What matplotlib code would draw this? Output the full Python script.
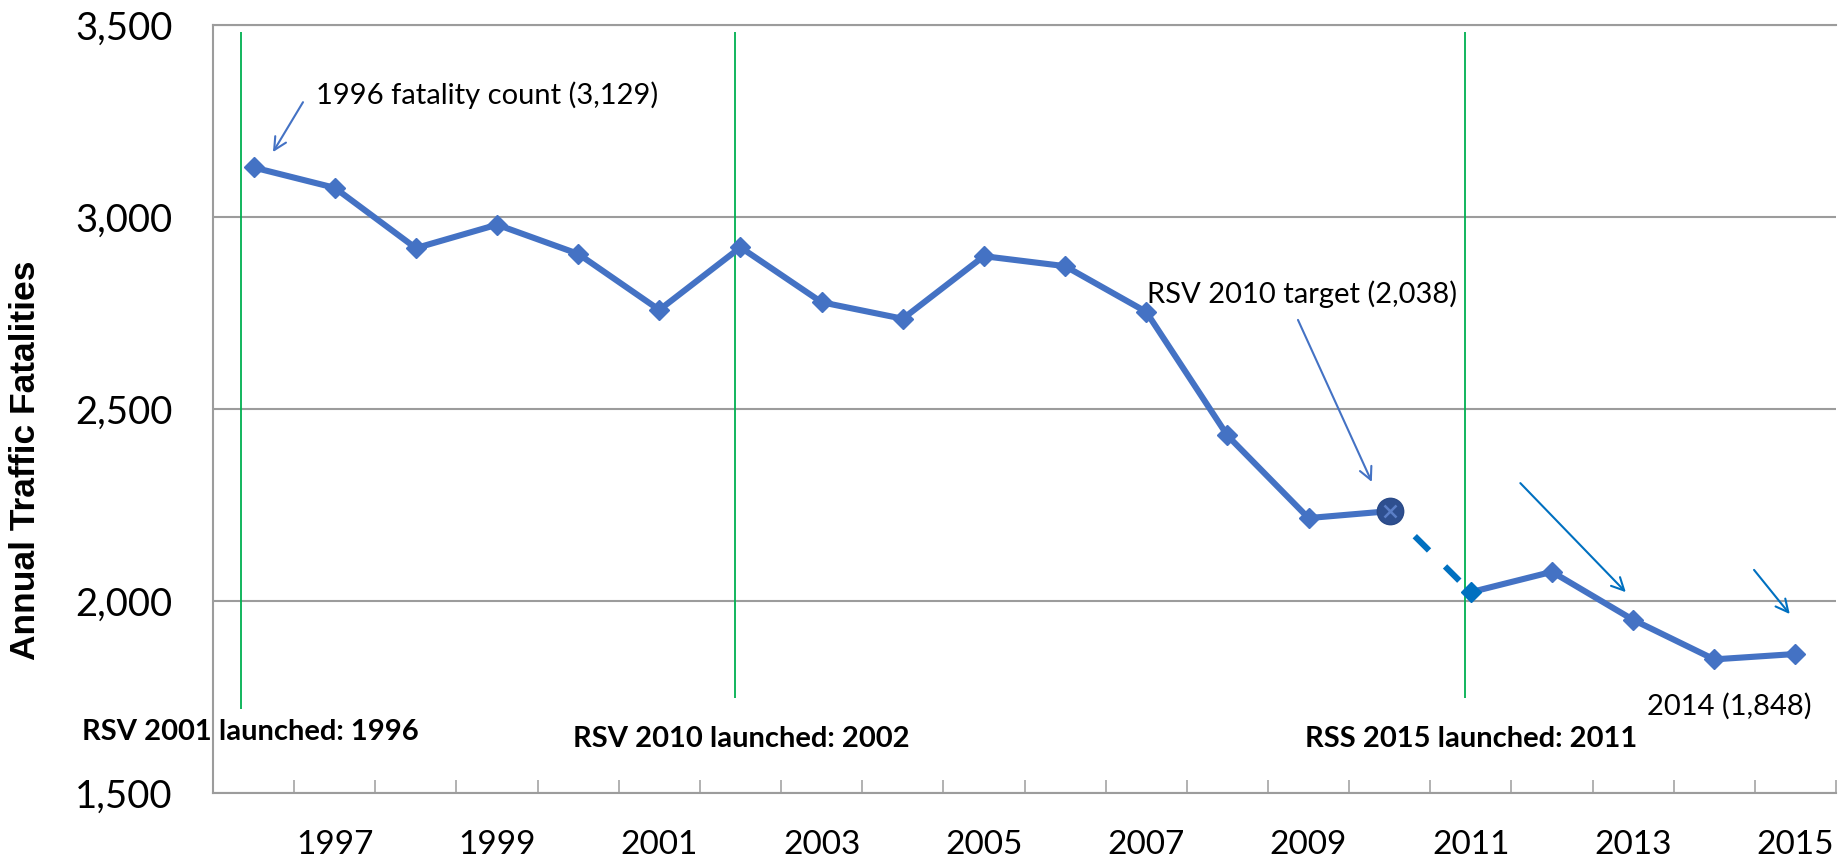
import numpy as np
import matplotlib
matplotlib.use("Agg")
import matplotlib.pyplot as plt

plt.rcParams['font.family'] = ['Lato', 'DejaVu Sans']

# ---- data ----
years = list(range(1996, 2016))
fatalities = [3129, 3076, 2919, 2980, 2904, 2758, 2921, 2778, 2735, 2898,
              2872, 2753, 2431, 2216, 2234, 2023, 2076, 1951, 1848, 1862]
tick_years = [str(y) for y in years if y % 2 == 1]
y_ticks = [1500, 2000, 2500, 3000, 3500]
y_tick_labels = ['1,500', '2,000', '2,500', '3,000', '3,500']
launch_labels = ['RSV 2001 launched: 1996', 'RSV 2010 launched: 2002', 'RSS 2015 launched: 2011']

LINE = '#4472C4'
DARK = '#0070C0'
GREEN = '#00B050'
GRID = '#9C9C9C'

W, H = 1845, 864
fig = plt.figure(figsize=(W / 100, H / 100), dpi=100)
ax = fig.add_axes([213 / W, 1 - 793 / H, (1836 - 213) / W, (793 - 25) / H])

x = np.arange(len(years))
v = np.array(fatalities)

ax.set_xlim(-0.5, len(years) - 0.5)
ax.set_ylim(1500, 3500)

# grid / spines
ax.set_yticks(y_ticks)
ax.set_yticklabels(y_tick_labels, fontsize=27.5)
ax.yaxis.grid(True, color=GRID, lw=1.5, zorder=0)
ax.set_axisbelow(True)
ax.spines['right'].set_visible(False)
for s in ['left', 'bottom', 'top']:
    ax.spines[s].set_color(GRID)
    ax.spines[s].set_linewidth(1.5)
ax.tick_params(axis='y', length=0, pad=29, labelcolor='black')

# x ticks: marks at boundaries, labels at odd-year centers
ax.set_xticks(np.arange(-0.5, len(years), 1))
ax.set_xticklabels([])
ax.tick_params(axis='x', which='major', direction='in', length=9.4, width=1.1, color=GRID)
ax.set_xticks([i for i, y in enumerate(years) if y % 2 == 1], minor=True)
ax.set_xticklabels(tick_years, minor=True, fontsize=24)
ax.tick_params(axis='x', which='minor', length=0, pad=26.5)

# vertical launch lines
ax.vlines([-0.155, 5.93, 14.93], [1719, 1747, 1747], [3482, 3482, 3482],
          color=GREEN, lw=1.3, zorder=2)

# series
i10 = years.index(2010)
i11 = years.index(2011)
LW = 4.4
ax.plot(x[:i10 + 1], v[:i10 + 1], color=LINE, lw=LW, marker='D', ms=10.5,
        markevery=list(range(i10)), zorder=3)
ax.plot(x[i10:i11 + 1], v[i10:i11 + 1], color=DARK, lw=LW,
        linestyle=(1.2, (3.3, 3.7)), zorder=2)
ax.plot(x[i11:], v[i11:], color=LINE, lw=LW, marker='D', ms=10.5,
        markevery=list(range(1, len(years) - i11)), zorder=3)
ax.plot(x[i11], v[i11], marker='D', ms=10.5, color=DARK, ls='none', zorder=4)
ax.plot(x[i10], v[i10], marker='o', ms=19, mfc='#2E4F8F', mec='#2A4A88',
        mew=1, ls='none', zorder=5)
ax.plot(x[i10], v[i10], marker='x', ms=8, mec='#5B7FC7', mew=1.8, ls='none', zorder=6)

# y label
ax.set_ylabel('Annual Traffic Fatalities', family=['Liberation Sans', 'DejaVu Sans'],
              fontweight='bold', fontsize=25.5, va='center')
ax.yaxis.set_label_coords((26 - 213) / 1623, (793 - 460) / 768)

# annotations
ax.text(0.769, 3294, '1996 fatality count (3,129)', fontsize=21, ha='left', va='baseline')
ax.text(11.01, 2776, 'RSV 2010 target (2,038)', fontsize=21, ha='left', va='baseline')
ax.text(17.17, 1703, '2014 (1,848)', fontsize=21, ha='left', va='baseline')
for (tx, ty), lab in zip([(-2.12, 1638), (3.94, 1620), (12.96, 1620)], launch_labels):
    ax.text(tx, ty, lab, fontsize=21, fontweight='bold', ha='left', va='baseline')

arrows = [((0.609, 3299), (0.239, 3169), LINE),
          ((12.87, 2732), (13.78, 2310), LINE),
          ((15.61, 2307), (16.91, 2023), DARK),
          ((18.49, 2081), (18.93, 1966), DARK)]
for (x0, y0), (x1, y1), c in arrows:
    ax.annotate('', xy=(x1, y1), xytext=(x0, y0),
                arrowprops=dict(arrowstyle='->,head_length=0.9,head_width=0.45',
                                color=c, lw=1.5, shrinkA=0, shrinkB=0))

fig.savefig('out.png', dpi=100, facecolor='white')
